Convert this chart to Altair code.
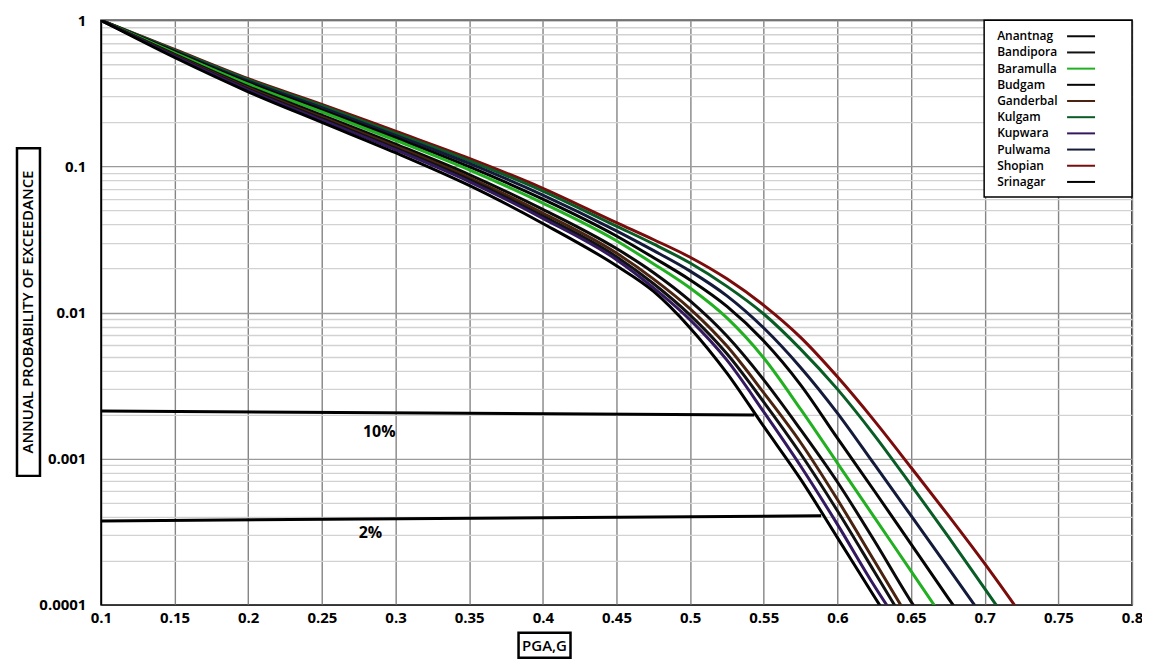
import altair as alt
import pandas as pd

# ---------------- data ----------------
DISTRICTS = ["Anantnag", "Bandipora", "Baramulla", "Budgam", "Ganderbal",
             "Kulgam", "Kupwara", "Pulwama", "Shopian", "Srinagar"]
COLORS = ["#0a0a0a", "#111111", "#22b022", "#050505", "#4a2410",
          "#0a5c26", "#33195e", "#141b3a", "#7a0c0c", "#000000"]

UPPER_X = [0.10, 0.15, 0.20, 0.25, 0.30, 0.35, 0.40, 0.45]
BEND_X = [0.475, 0.50, 0.525, 0.55, 0.575, 0.60, 0.625, 0.65, 0.675, 0.70, 0.725]

SHOPIAN_P = [1.0, 0.631, 0.398, 0.266, 0.174, 0.1135, 0.0708, 0.0412,
             0.0316, 0.0239, 0.0170, 0.0112, 0.00676, 0.00363, 0.00182, 0.00087, 0.000412, 0.000191, 0.0000851]
KULGAM_P = [1.0, 0.625, 0.392, 0.260, 0.169, 0.1096, 0.0678, 0.0390,
            0.0295, 0.0218, 0.0151, 0.00977, 0.00562, 0.00299, 0.00145, 0.00066, 0.000295, 0.000129, 0.0000562]
PULWAMA_P = [1.0, 0.615, 0.383, 0.252, 0.163, 0.1047, 0.0637, 0.0362,
             0.0266, 0.0192, 0.0130, 0.00783, 0.00421, 0.00205, 0.000916, 0.000407, 0.00018, 0.0000794]
BUDGAM_P = [1.0, 0.607, 0.373, 0.243, 0.157, 0.0995, 0.0597, 0.0334,
            0.0238, 0.0167, 0.0110, 0.00638, 0.00320, 0.00138, 0.000603, 0.00026, 0.000112, 0.000049]
BARAMULLA_P = [1.0, 0.598, 0.365, 0.236, 0.151, 0.0948, 0.0561, 0.0310,
               0.0216, 0.0147, 0.00918, 0.00488, 0.00218, 0.000933, 0.000398, 0.00017, 0.0000724]
ANANTNAG_P = [1.0, 0.585, 0.352, 0.224, 0.142, 0.0879, 0.0508, 0.0274,
              0.0188, 0.0120, 0.00690, 0.00346, 0.00158, 0.000692, 0.000275, 0.000105, 0.0000447]
GANDERBAL_P = [1.0, 0.577, 0.344, 0.217, 0.137, 0.0839, 0.0479, 0.0255,
               0.0170, 0.0106, 0.00589, 0.00282, 0.00129, 0.000525, 0.0002, 0.0000759]
BANDIPORA_P = [1.0, 0.571, 0.338, 0.212, 0.133, 0.0811, 0.0457, 0.0241,
               0.0158, 0.0096, 0.00522, 0.00244, 0.00108, 0.00044, 0.000169, 0.0000646]
KUPWARA_P = [1.0, 0.566, 0.333, 0.207, 0.130, 0.0787, 0.0441, 0.0230,
             0.0148, 0.0089, 0.00472, 0.00209, 0.000891, 0.000355, 0.000135, 0.0000562]
SRINAGAR_P = [1.0, 0.556, 0.324, 0.200, 0.124, 0.0741, 0.0407, 0.0209,
              0.0140, 0.00785, 0.00385, 0.00166, 0.000724, 0.000288, 0.000114, 0.0000457]

# reference hazard levels (10% and 2% in 50 years)
LINE10_X = [0.10, 0.5435]
LINE10_P = [0.00212, 0.00199]
LINE2_X = [0.10, 0.589]
LINE2_P = [0.000375, 0.000406]
LEVEL_LABELS = ["10%", "2%"]
LEVEL_LABEL_X = [0.289, 0.283]
LEVEL_LABEL_P = [0.00152, 0.00031]

X_TICKS = [0.1, 0.15, 0.2, 0.25, 0.3, 0.35, 0.4, 0.45, 0.5, 0.55, 0.6, 0.65, 0.7, 0.75, 0.8]
DECADES = [1, 0.1, 0.01, 0.001, 0.0001]
MINOR_MULT = [2, 3, 4, 5, 6, 7, 8, 9]

# ---------------- tables ----------------
series = {
    "Shopian": SHOPIAN_P, "Kulgam": KULGAM_P, "Pulwama": PULWAMA_P, "Budgam": BUDGAM_P,
    "Baramulla": BARAMULLA_P, "Anantnag": ANANTNAG_P, "Ganderbal": GANDERBAL_P,
    "Bandipora": BANDIPORA_P, "Kupwara": KUPWARA_P, "Srinagar": SRINAGAR_P,
}
all_x = UPPER_X + BEND_X
rows = []
for name, ps in series.items():
    for x, p in zip(all_x, ps):
        rows.append({"district": name, "x": x, "p": p})
curves = pd.DataFrame(rows)

lv_rows = []
for lvl, xs, ps in (("10%", LINE10_X, LINE10_P), ("2%", LINE2_X, LINE2_P)):
    for x, p in zip(xs, ps):
        lv_rows.append({"level": lvl, "x": x, "p": p})
levels = pd.DataFrame(lv_rows)
lv_labels = pd.DataFrame({"t": LEVEL_LABELS, "x": LEVEL_LABEL_X, "p": LEVEL_LABEL_P})

y_values = []
for d in DECADES[:-1]:
    y_values.append(d)
    y_values += [m * d / 10 for m in MINOR_MULT]
y_values.append(DECADES[-1])

FONT = "Open Sans"
is_decade = "abs(log(datum.value)/LN10 - round(log(datum.value)/LN10)) < 1e-6"

x_enc = alt.X("x:Q", scale=alt.Scale(domain=[0.1, 0.8], nice=False, zero=False),
              axis=alt.Axis(values=X_TICKS, format="~g", title=None, grid=True,
                            gridColor="#858585", gridWidth=1.4, ticks=False,
                            domainColor="#333333", domainWidth=1.5, labelFlush=False,
                            labelFont=FONT, labelFontSize=15, labelFontWeight="bold",
                            labelColor="black", labelPadding=6, labelOverlap=False))
y_enc = alt.Y("p:Q", scale=alt.Scale(type="log", domain=[0.0001, 1], nice=False),
              axis=alt.Axis(values=y_values, title=None, grid=True,
                            labelExpr=f"({is_decade}) ? format(datum.value, '~g') : ''",
                            gridColor={"condition": {"test": is_decade, "value": "#9a9a9a"},
                                       "value": "#d2d2d2"},
                            gridWidth=1.3, ticks=False, domainColor="black", domainWidth=1.5,
                            labelFont=FONT, labelFontSize=15, labelFontWeight="bold",
                            labelColor="black", labelPadding=15, labelOverlap=False))

lines = alt.Chart(curves).mark_line(interpolate="monotone", strokeWidth=3, clip=True).encode(
    x=x_enc, y=y_enc,
    color=alt.Color("district:N", scale=alt.Scale(domain=DISTRICTS, range=COLORS),
                    legend=alt.Legend(title=None, orient="none", legendX=894, legendY=8,
                                      symbolType="M-2,0H2", symbolSize=196, symbolStrokeWidth=2,
                                      symbolFillColor="transparent",
                                      labelFont=FONT, labelFontSize=12, labelFontWeight=600,
                                      labelColor="black", symbolOffset=79,
                                      labelOffset={"expr": "-92"},
                                      rowPadding=2.2, padding=0)),
    order=alt.Order("x:Q"),
)

level_lines = alt.Chart(levels).mark_line(color="black", strokeWidth=3).encode(
    x="x:Q", y="p:Q", detail="level:N")
level_text = alt.Chart(lv_labels).mark_text(font=FONT, fontSize=16, fontWeight="bold",
                                            color="black").encode(x="x:Q", y="p:Q", text="t:N")

one = alt.Data(values=[{}])
legend_box = alt.Chart(one).mark_rect(fill="white", stroke="black", strokeWidth=1.5).encode(
    x=alt.value(884), x2=alt.value(1032), y=alt.value(0), y2=alt.value(177))
ytitle_box = alt.Chart(one).mark_rect(fill="white", fillOpacity=0, stroke="black", strokeWidth=2.5).encode(
    x=alt.value(-84), x2=alt.value(-61), y=alt.value(128), y2=alt.value(456))
ytitle = alt.Chart(one).mark_text(font=FONT, fontSize=15, fontWeight=600, color="black",
                                  angle=270, align="center", baseline="middle").encode(
    x=alt.value(-72.5), y=alt.value(292), text=alt.value("ANNUAL PROBABILITY OF EXCEEDANCE"))
xtitle_box = alt.Chart(one).mark_rect(fill="white", fillOpacity=0, stroke="black", strokeWidth=2.5).encode(
    x=alt.value(418), x2=alt.value(470), y=alt.value(613), y2=alt.value(638))
xtitle = alt.Chart(one).mark_text(font=FONT, fontSize=15, fontWeight=600, color="black",
                                  align="center", baseline="middle").encode(
    x=alt.value(444), y=alt.value(626), text=alt.value("PGA,G"))

chart = alt.layer(legend_box, lines, level_lines, level_text,
                  ytitle_box, ytitle, xtitle_box, xtitle).properties(
    width=1032, height=585,
    autosize=alt.AutoSizeParams(type="none"),
    padding={"left": 93, "top": 12, "right": 10, "bottom": 54},
).configure_view(stroke="black", strokeWidth=1.5)

chart.save("out.html", embed_options={"renderer": "svg", "actions": False})
